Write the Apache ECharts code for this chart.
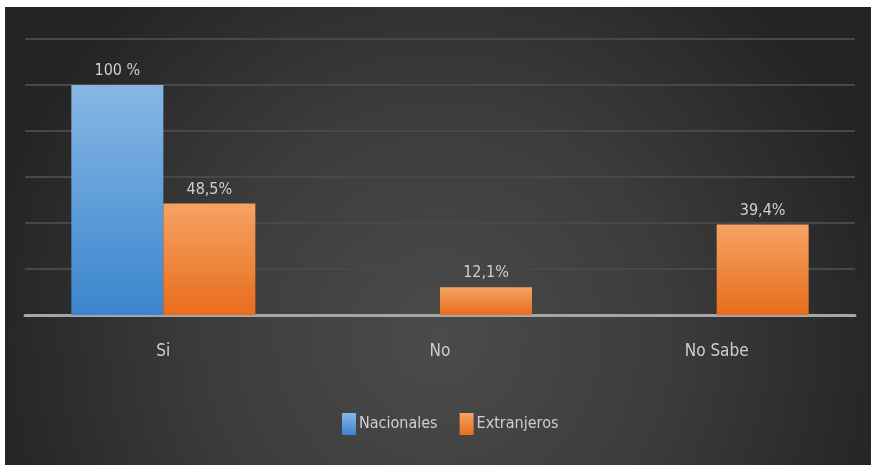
<!DOCTYPE html>
<html>
<head>
<meta charset="utf-8">
<script src="https://cdn.jsdelivr.net/npm/echarts@6/dist/echarts.min.js"></script>
<style>
  html, body { margin: 0; padding: 0; background: #fff; }
  #chart { width: 871px; height: 465px; }
</style>
</head>
<body>
<div id="chart"></div>
<script>
const categories = ['Si', 'No', 'No Sabe'];
const nacionales = [100, 0, 0];
const extranjeros = [48.5, 12.1, 39.4];
const nacionalesLabels = ['100 %', '', ''];
const extranjerosLabels = ['48,5%', '12,1%', '39,4%'];
const yTicks = [0, 20, 40, 60, 80, 100, 120];

const FONT = "'Liberation Sans Narrow', 'DejaVu Sans Condensed', sans-serif";
const TEXT = '#cfcfcf';

function vGrad(top, bottom) {
  return new echarts.graphic.LinearGradient(0, 0, 0, 1, [
    { offset: 0, color: top },
    { offset: 1, color: bottom }
  ]);
}

const chart = echarts.init(document.getElementById('chart'));

const option = {
  animation: false,
  backgroundColor: 'transparent',
  graphic: [{
    type: 'rect',
    z: -10,
    shape: { x: 5, y: 7, width: 866, height: 458 },
    style: {
      fill: new echarts.graphic.RadialGradient(0.5, 0.72, 1.0, [
        { offset: 0, color: '#4b4b4b' },
        { offset: 0.5, color: '#3c3c3c' },
        { offset: 1, color: '#242424' }
      ])
    }
  }],
  grid: { left: 25, right: 16, top: 39, bottom: 150, containLabel: false },
  legend: {
    left: 337,
    top: 408,
    itemWidth: 14,
    itemHeight: 22,
    itemGap: 22,
    icon: 'rect',
    textStyle: { color: TEXT, fontFamily: FONT, fontSize: 16, padding: [0, 0, 0, -2] },
    data: ['Nacionales', 'Extranjeros']
  },
  xAxis: {
    type: 'category',
    data: categories,
    axisLine: { lineStyle: { color: '#a6a6a6', width: 3 } },
    axisTick: { show: false },
    axisLabel: { color: TEXT, fontFamily: FONT, fontSize: 17, margin: 28 }
  },
  yAxis: {
    type: 'value',
    min: yTicks[0],
    max: yTicks[yTicks.length - 1],
    interval: yTicks[1] - yTicks[0],
    axisLabel: { show: false },
    axisLine: { show: false },
    axisTick: { show: false },
    splitLine: { lineStyle: { color: '#484848', width: 2 } }
  },
  series: [
    {
      name: 'Nacionales',
      type: 'bar',
      data: nacionales,
      barWidth: 92,
      barGap: '0%',
      itemStyle: { color: vGrad('#86b7e5', '#3b85cd') },
      label: {
        show: true,
        position: 'top',
        distance: 6,
        color: TEXT,
        fontFamily: FONT,
        fontSize: 16,
        formatter: p => nacionalesLabels[p.dataIndex]
      }
    },
    {
      name: 'Extranjeros',
      type: 'bar',
      data: extranjeros,
      barWidth: 92,
      itemStyle: { color: vGrad('#f5a363', '#e86d1c') },
      label: {
        show: true,
        position: 'top',
        distance: 6,
        color: TEXT,
        fontFamily: FONT,
        fontSize: 16,
        formatter: p => extranjerosLabels[p.dataIndex]
      }
    }
  ]
};

chart.setOption(option);
</script>
</body>
</html>
